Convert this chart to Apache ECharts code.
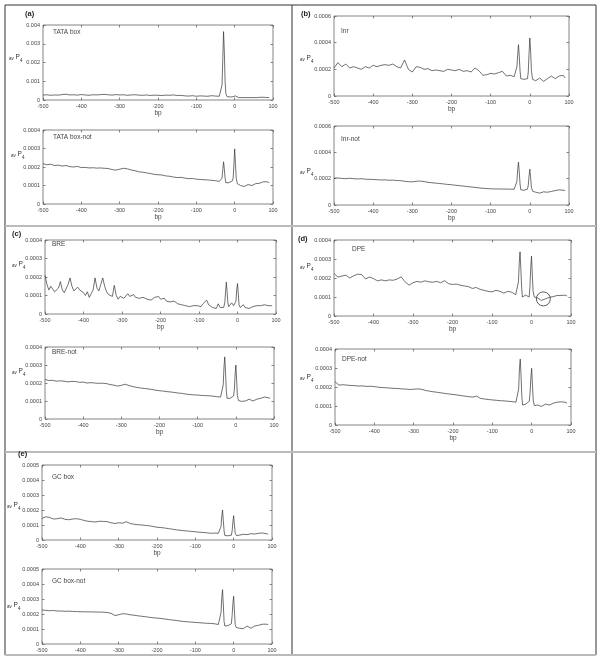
<!DOCTYPE html>
<html><head><meta charset="utf-8">
<script src="https://cdn.jsdelivr.net/npm/echarts@6/dist/echarts.min.js"></script>
<style>html,body{margin:0;padding:0;background:#fff}#c{width:600px;height:660px}</style>
</head><body><div id="c"></div>
<script>
// bp positions (x values)
const BP = [-500,-490,-480,-470,-460,-450,-440,-430,-420,-410,-400,-390,-380,-370,-360,-350,-340,-330,-320,-310,-300,-290,-280,-270,-260,-250,-240,-230,-220,-210,-200,-190,-180,-170,-160,-150,-140,-130,-120,-110,-100,-90,-80,-70,-60,-50,-40,
 -36,-33,-31,-29,-27,-25,-23,-20,-15,-10,-6,-4,-2,0,2,4,7,10,15,20,25,30,35,40,45,50,55,60,65,70,75,80,85,90];
const BP5 = [-500,-495,-490,-485,-480,-475,-470,-465,-460,-455,-450,-445,-440,-435,-430,-425,-420,-415,-410,-405,-400,-395,-390,-385,-380,-375,-370,-365,-360,-355,-350,-345,-340,-335,-330,-325,-320,-315,-310,-305,-300,-295,-290,-285,-280,-275,-270,-265,-260,-255,-250,-245,-240,-235,-230,-225,-220,-215,-210,-205,-200,-195,-190,-185,-180,-175,-170,-165,-160,-155,-150,-145,-140,-135,-130,-125,-120,-115,-110,-105,-100,-95,-90,-85,-80,-75,-70,-65,-60,-55,-50,-45,-40,
 -36,-33,-31,-29,-27,-25,-23,-20,-15,-10,-6,-4,-2,0,2,4,7,10,15,20,25,30,35,40,45,50,55,60,65,70,75,80,85,90];
const X_TICKS = [-500,-400,-300,-200,-100,0,100];

// av P4 values in units of 1e-4
const tataBox = [2.6,2.8,2.5,2.7,2.6,2.9,3.1,2.7,2.8,2.6,2.9,2.7,2.5,2.8,2.7,2.9,3.0,2.8,2.6,2.9,2.7,2.8,2.5,2.7,2.8,2.6,2.5,2.7,2.4,2.6,2.5,2.4,2.6,2.5,2.7,2.4,2.5,2.2,2.1,2.3,2.0,2.2,2.1,2.0,2.3,2.1,2.0,
 2.4,8,22,36.5,26,10,3.5,1.8,1.5,1.6,1.5,1.8,2.4,2.8,2.2,1.6,1.4,1.3,1.4,1.3,1.4,1.3,1.4,1.3,1.5,1.3,1.4,1.3,1.4,1.5,1.3,1.4,1.5,1.3];
const tataBoxNot = [2.18,2.12,2.15,2.08,2.1,2.05,2.08,2.02,2.0,2.03,1.97,1.98,1.95,1.96,1.94,1.95,1.93,1.92,1.86,1.83,1.88,1.93,1.9,1.84,1.8,1.74,1.72,1.68,1.65,1.6,1.58,1.57,1.52,1.5,1.46,1.43,1.44,1.4,1.37,1.38,1.34,1.33,1.31,1.3,1.28,1.26,1.22,
 1.2,1.4,1.85,2.28,1.9,1.4,1.15,1.12,1.15,1.2,1.25,1.4,2.1,2.98,2.2,1.4,1.1,1.05,1.0,0.98,0.95,0.98,1.05,1.12,1.0,1.05,1.1,1.08,1.12,1.15,1.2,1.18,1.2,1.15];
const inr = [2.1,2.5,2.2,2.4,2.1,2.2,2.1,2.0,2.2,2.1,2.3,2.2,2.3,2.35,2.3,2.4,2.2,2.1,2.7,2.0,1.8,2.2,2.15,2.0,2.05,1.9,1.95,1.9,1.85,2.0,1.95,1.9,2.0,1.85,1.9,1.8,2.1,1.9,1.55,1.6,1.7,1.65,1.75,1.85,1.5,1.55,1.45,
 1.5,2.2,3.1,3.85,3.0,1.9,1.3,1.2,1.25,1.3,1.3,1.8,3.2,4.35,3.4,1.9,1.25,1.2,1.15,1.05,1.35,1.2,1.1,1.2,1.3,1.15,1.5,1.4,1.3,1.4,1.5,1.35,1.55,1.35];
const inrNot = [2.04,2.05,2.02,2.0,2.03,2.0,1.98,2.0,1.96,1.95,1.94,1.92,1.9,1.91,1.88,1.89,1.86,1.85,1.8,1.77,1.76,1.8,1.82,1.78,1.72,1.69,1.66,1.63,1.6,1.56,1.54,1.5,1.47,1.44,1.4,1.37,1.34,1.3,1.27,1.25,1.23,1.22,1.22,1.21,1.21,1.2,1.2,
 1.22,1.8,2.7,3.25,2.5,1.6,1.15,1.1,1.12,1.15,1.2,1.5,2.2,2.72,2.1,1.35,1.05,1.0,0.97,0.93,0.9,0.88,1.0,1.1,0.97,1.0,1.03,1.06,1.1,1.12,1.15,1.13,1.12,1.1];
const bre = [2.1,1.6,1.3,1.5,1.35,1.2,1.1,1.4,1.75,1.3,1.15,1.2,1.6,1.95,1.5,1.25,1.15,1.45,1.3,1.4,1.15,1.0,1.2,0.9,0.95,1.3,1.95,1.4,1.25,1.6,1.95,1.5,1.2,1.05,1.1,0.95,1.55,1.0,0.8,0.95,1.0,0.85,0.9,1.1,0.95,0.85,1.05,0.9,1.0,0.85,0.95,0.9,1.0,0.8,0.9,0.75,0.8,0.9,0.85,0.95,0.8,0.75,0.85,0.7,0.8,0.65,0.6,0.7,0.65,0.55,0.6,0.5,0.6,0.45,0.5,0.4,0.5,0.45,0.35,0.45,0.5,0.4,0.55,0.45,0.75,0.5,0.45,0.35,0.4,0.3,0.55,0.35,0.25,
 0.35,0.6,1.2,1.72,1.2,0.6,0.4,0.45,0.6,0.45,0.4,0.7,1.3,1.65,1.1,0.5,0.35,0.45,0.5,0.35,0.4,0.3,0.35,0.4,0.35,0.45,0.4,0.45,0.55,0.5,0.6,0.45,0.5,0.45];
const breNot = [2.19,2.14,2.15,2.1,2.12,2.1,2.06,2.09,2.08,2.04,2.05,2.0,2.02,2.0,1.98,1.99,1.97,1.92,1.88,1.83,1.87,1.93,1.86,1.8,1.76,1.72,1.7,1.67,1.64,1.6,1.57,1.55,1.52,1.5,1.47,1.44,1.42,1.38,1.36,1.34,1.33,1.31,1.3,1.29,1.27,1.24,1.22,
 1.2,1.9,2.9,3.45,2.6,1.6,1.15,1.1,1.15,1.2,1.28,1.6,2.4,3.0,2.2,1.3,1.02,1.0,0.98,0.97,1.0,1.02,1.1,1.02,1.0,1.05,1.1,1.12,1.15,1.2,1.22,1.2,1.18,1.15];
const dpe = [2.24,2.05,2.1,2.15,2.0,2.12,2.2,2.18,1.95,2.05,1.97,1.85,1.9,1.85,1.9,1.88,1.95,2.06,1.8,1.62,1.75,1.82,1.78,1.85,1.8,1.78,1.82,1.75,1.86,1.7,1.66,1.68,1.62,1.58,1.55,1.45,1.5,1.4,1.35,1.3,1.27,1.35,1.3,1.2,1.3,1.25,1.12,
 1.2,1.8,2.8,3.38,2.5,1.5,1.0,0.95,1.1,1.05,1.0,1.5,2.5,3.15,2.2,1.3,1.0,0.98,0.95,0.85,0.82,0.8,0.9,0.95,0.98,1.0,1.02,1.05,1.08,1.1,1.08,1.12,1.1,1.05];
const dpeNot = [2.28,2.1,2.12,2.1,2.08,2.07,2.05,2.06,2.03,2.04,2.02,1.99,1.97,1.96,1.94,1.93,1.92,1.9,1.89,1.87,1.88,1.9,1.88,1.82,1.78,1.75,1.72,1.69,1.66,1.63,1.61,1.58,1.55,1.52,1.49,1.47,1.52,1.4,1.37,1.34,1.32,1.3,1.28,1.27,1.25,1.23,1.2,
 1.2,1.9,3.0,3.47,2.6,1.5,1.05,1.05,1.1,1.15,1.25,1.7,2.5,2.98,2.1,1.3,1.02,1.05,1.05,0.95,0.98,1.0,1.1,1.0,1.05,1.1,1.15,1.18,1.2,1.2,1.22,1.25,1.2,1.15];
const gcBox = [1.44,1.55,1.5,1.4,1.42,1.47,1.38,1.35,1.4,1.42,1.38,1.3,1.25,1.22,1.2,1.25,1.24,1.22,1.15,1.1,1.15,1.12,1.22,1.1,1.05,1.02,1.0,0.97,0.95,0.9,0.85,0.83,0.8,0.76,0.72,0.68,0.65,0.62,0.6,0.57,0.55,0.52,0.5,0.48,0.45,0.46,0.45,
 0.45,0.9,1.6,2.0,1.3,0.6,0.3,0.25,0.28,0.3,0.32,0.6,1.2,1.62,1.0,0.45,0.3,0.3,0.32,0.35,0.38,0.4,0.36,0.35,0.42,0.45,0.4,0.4,0.45,0.5,0.47,0.45,0.42,0.4];
const gcBoxNot = [2.27,2.24,2.22,2.23,2.2,2.2,2.18,2.19,2.17,2.16,2.15,2.15,2.14,2.14,2.13,2.13,2.12,2.1,2.05,1.9,1.95,2.02,2.0,1.95,1.92,1.88,1.85,1.82,1.78,1.75,1.73,1.7,1.67,1.63,1.6,1.57,1.53,1.5,1.48,1.46,1.44,1.42,1.4,1.38,1.37,1.35,1.3,
 1.3,2.1,3.1,3.62,2.6,1.5,1.2,1.2,1.22,1.25,1.35,1.9,2.7,3.18,2.2,1.3,1.1,1.08,1.05,1.0,1.02,1.05,1.2,1.1,1.05,1.12,1.2,1.22,1.25,1.3,1.32,1.35,1.32,1.3];
const dpeCircle = [30, 0.9];

// layout (positions & styles)
const PANELS = [
 {x:BP,  v:tataBox,    grid:{left:43,top:25,width:230,height:75},  ymax:40, yint:10, title:'TATA box',     tpos:[53,33],  av:[9,58],   bp:true},
 {x:BP,  v:tataBoxNot, grid:{left:43,top:130,width:230,height:74}, ymax:4,  yint:1,  title:'TATA box-not', tpos:[53,138], av:[11,155], bp:true},
 {x:BP,  v:inr,        grid:{left:334,top:16,width:235,height:80}, ymax:6,  yint:2,  title:'Inr',          tpos:[341,32], av:[300,59], bp:true},
 {x:BP,  v:inrNot,     grid:{left:334,top:126,width:235,height:79},ymax:6,  yint:2,  title:'Inr-not',      tpos:[341,140],av:[300,172],bp:true},
 {x:BP5, v:bre,        grid:{left:45,top:240,width:231,height:74}, ymax:4,  yint:1,  title:'BRE',          tpos:[52,245], av:[12,265], bp:true},
 {x:BP,  v:breNot,     grid:{left:45,top:347,width:229,height:72}, ymax:4,  yint:1,  title:'BRE-not',      tpos:[52,353], av:[12,372], bp:true},
 {x:BP,  v:dpe,        grid:{left:334,top:240,width:237,height:76},ymax:4,  yint:1,  title:'DPE',          tpos:[352,250],av:[300,267],bp:true, circle:true},
 {x:BP,  v:dpeNot,     grid:{left:335,top:349,width:236,height:76},ymax:4,  yint:1,  title:'DPE-not',      tpos:[342,360],av:[300,378],bp:true},
 {x:BP,  v:gcBox,      grid:{left:42,top:465,width:230,height:75}, ymax:5,  yint:1,  title:'GC box',       tpos:[52,478], av:[7,506],  bp:true},
 {x:BP,  v:gcBoxNot,   grid:{left:42,top:569,width:230,height:75}, ymax:5,  yint:1,  title:'GC box-not',   tpos:[52,582], av:[7,606],  bp:false}
];
const LETTERS = [['(a)',25,15],['(b)',301,15],['(c)',12,235],['(d)',298,240],['(e)',18,455]];

const FONT = 'Liberation Sans';
const fmtY = v => v === 0 ? '0' : String(parseFloat((v * 1e-4).toFixed(6)));
const option = {animation:false, textStyle:{fontFamily:FONT}, grid:[], xAxis:[], yAxis:[], series:[], graphic:[]};
const tickStyle = {inside:true, length:2.5, lineStyle:{color:'#666', width:0.8}};
const noLine = {show:false, onZero:false};

PANELS.forEach((p, i) => {
  option.grid.push(Object.assign({show:true, borderColor:'#666', borderWidth:0.8, backgroundColor:'#fff'}, p.grid));
  option.xAxis.push({type:'value', gridIndex:i, min:X_TICKS[0], max:X_TICKS[X_TICKS.length-1], interval:100, position:'bottom',
    axisLine:noLine, axisTick:tickStyle, splitLine:{show:false},
    axisLabel:{fontSize:5.5, color:'#444', margin:3, fontFamily:FONT},
    name:p.bp ? 'bp' : '', nameLocation:'middle', nameGap:10, nameTextStyle:{fontSize:6.5, color:'#444', fontFamily:FONT}});
  option.xAxis.push({type:'value', gridIndex:i, min:-500, max:100, interval:100, position:'top',
    axisLine:noLine, axisTick:tickStyle, axisLabel:{show:false}, splitLine:{show:false}});
  option.yAxis.push({type:'value', gridIndex:i, min:0, max:p.ymax, interval:p.yint, position:'left',
    axisLine:noLine, axisTick:tickStyle, splitLine:{show:false},
    axisLabel:{fontSize:5.5, color:'#444', margin:3, formatter:fmtY, fontFamily:FONT}});
  option.yAxis.push({type:'value', gridIndex:i, min:0, max:p.ymax, interval:p.yint, position:'right',
    axisLine:noLine, axisTick:tickStyle, axisLabel:{show:false}, splitLine:{show:false}});
  const s = {type:'line', xAxisIndex:2*i, yAxisIndex:2*i, showSymbol:false, silent:true,
    lineStyle:{width:0.7, color:'#333'}, data:p.x.map((x, j) => [x, p.v[j]])};
  if (p.circle) {
    s.markPoint = {symbol:'circle', symbolSize:14, silent:true, label:{show:false},
      itemStyle:{color:'rgba(0,0,0,0)', borderColor:'#333', borderWidth:0.8},
      data:[{coord:dpeCircle}]};
  }
  option.series.push(s);
  option.graphic.push({type:'text', left:p.tpos[0], top:p.tpos[1]-4, z:10,
    style:{text:p.title, fontSize:6.5, fill:'#444', fontFamily:FONT}});
  option.graphic.push({type:'text', left:p.av[0], top:p.av[1]-4, z:10,
    style:{text:'{a|av} P{s|4}', fontSize:6.5, fill:'#333', fontFamily:FONT,
      rich:{a:{fontSize:4.5, fill:'#333', padding:[2,0,0,0], fontFamily:FONT},
            s:{fontSize:4.5, fill:'#333', padding:[6,0,0,0], fontFamily:FONT}}}});
});
LETTERS.forEach(l => option.graphic.push({type:'text', left:l[1], top:l[2]-5, z:10,
  style:{text:l[0], fontSize:7.5, fontWeight:'bold', fill:'#222', fontFamily:FONT}}));
// panel frame
option.graphic.push(
  {type:'rect', shape:{x:5, y:5, width:591, height:650}, z:1, style:{fill:'none', stroke:'#333', lineWidth:1}},
  {type:'line', shape:{x1:292, y1:5, x2:292, y2:655}, z:1, style:{stroke:'#333', lineWidth:1}},
  {type:'line', shape:{x1:5, y1:226, x2:596, y2:226}, z:1, style:{stroke:'#bbb', lineWidth:2}},
  {type:'line', shape:{x1:5, y1:452, x2:596, y2:452}, z:1, style:{stroke:'#bbb', lineWidth:2}},
  {type:'line', shape:{x1:5, y1:655, x2:596, y2:655}, z:1, style:{stroke:'#bbb', lineWidth:2}}
);
const chart = echarts.init(document.getElementById('c'), null, {renderer:'canvas'});
chart.setOption(option);
</script></body></html>
